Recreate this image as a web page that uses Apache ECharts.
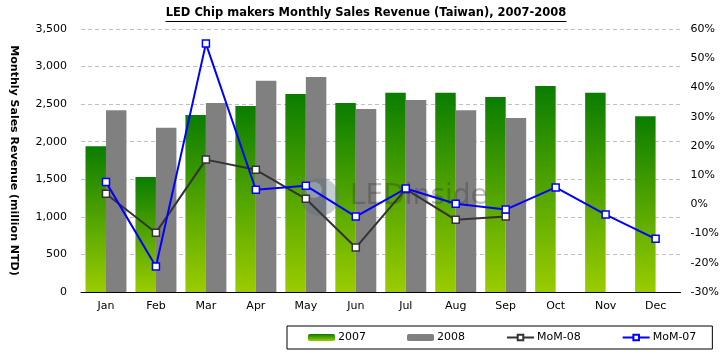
<!DOCTYPE html>
<html><head><meta charset="utf-8">
<script src="https://cdn.jsdelivr.net/npm/echarts@6/dist/echarts.min.js"></script>
<style>html,body{margin:0;padding:0;background:#fff}#c{width:722px;height:357px}</style>
</head><body><div id="c"></div>
<script>
const months = ['Jan','Feb','Mar','Apr','May','Jun','Jul','Aug','Sep','Oct','Nov','Dec'];
const sales2007 = [1940,1530,2355,2475,2635,2515,2650,2650,2595,2740,2650,2340];
const sales2008 = [2420,2185,2515,2810,2860,2435,2555,2420,2315];
const mom08 = [3.6,-9.7,15.3,11.8,1.9,-14.8,5.2,-5.3,-4.2];
const mom07 = [7.6,-21.3,55.0,5.0,6.4,-4.2,5.4,0.2,-1.8,5.8,-3.5,-11.8];
const titleText = 'LED Chip makers Monthly Sales Revenue (Taiwan), 2007-2008';
const yName = 'Monthly Sales Revenue (million NTD)';

const FONT = 'DejaVu Sans';
const TITLE_SIZE = 11.5;
const cv = document.createElement('canvas').getContext('2d');
cv.font = 'bold ' + TITLE_SIZE + 'px "DejaVu Sans"';
const titleW = Math.round(cv.measureText(titleText).width);
const titleCX = 366;

const chart = echarts.init(document.getElementById('c'), null, {renderer:'canvas'});
const green = new echarts.graphic.LinearGradient(0,0,0,1,[{offset:0,color:'#0a7d00'},{offset:1,color:'#9acc00'}]);
const lineSeries = (name, data, color) => ({
  name, type:'line', yAxisIndex:1, data, symbol:'rect', symbolSize:7,
  itemStyle:{color:'#fff', borderColor:color, borderWidth:1.5},
  lineStyle:{color:color, width:2}, z:5
});
chart.setOption({
  animation:false,
  textStyle:{fontFamily:FONT, color:'#000'},
  grid:{left:78, right:40, top:29, bottom:65},
  graphic:[
    {type:'text', x:titleCX, y:7, style:{text:titleText, fontSize:TITLE_SIZE, fontWeight:'bold', fontFamily:FONT, fill:'#000', textAlign:'center'}},
    {type:'rect', x:titleCX - titleW/2, y:21, shape:{width:titleW, height:1}, style:{fill:'#000'}},
    {type:'circle', z:3, shape:{cx:320, cy:197, r:19}, style:{fill:'rgba(90,110,130,0.35)'}},
    {type:'circle', z:3, shape:{cx:314, cy:190, r:8}, style:{fill:'rgba(200,230,230,0.35)'}},
    {type:'text', z:3, x:350, y:183, style:{text:'LEDinside', fontSize:28, fontFamily:FONT, fill:'rgba(50,50,50,0.32)'}}
  ],
  legend:{
    left:287, top:326, padding:[6,16,6,21], borderColor:'#000', borderWidth:1,
    itemWidth:27, itemHeight:7, itemGap:41,
    textStyle:{fontFamily:FONT, fontSize:11, color:'#000', padding:[0,0,0,-2]},
    data:['2007','2008','MoM-08','MoM-07']
  },
  xAxis:{
    type:'category', data:months,
    axisLine:{lineStyle:{color:'#000', width:1}},
    axisTick:{inside:true, length:3, lineStyle:{color:'#000'}},
    axisLabel:{fontFamily:FONT, fontSize:11, color:'#000', margin:9}
  },
  yAxis:[
    {type:'value', min:0, max:3500, interval:500,
     name:yName, nameLocation:'middle', nameRotate:-90, nameGap:62,
     nameTextStyle:{fontFamily:FONT, fontSize:11, fontWeight:'bold', color:'#000'},
     axisLine:{show:false}, axisTick:{show:false},
     axisLabel:{fontFamily:FONT, fontSize:11, color:'#000', margin:14,
       formatter:v=>v.toLocaleString('en-US')},
     splitLine:{lineStyle:{color:'#c0c0c0', type:[4,3]}}},
    {type:'value', min:-30, max:60, interval:10, position:'right',
     axisLine:{show:false}, axisTick:{show:false}, splitLine:{show:false},
     axisLabel:{fontFamily:FONT, fontSize:11, color:'#000', margin:10, formatter:'{value}%'}}
  ],
  series:[
    {name:'2007', type:'bar', data:sales2007, barGap:'0%', barCategoryGap:'18%', itemStyle:{color:green}},
    {name:'2008', type:'bar', data:sales2008, itemStyle:{color:'#808080'}},
    lineSeries('MoM-08', mom08, '#333333'),
    lineSeries('MoM-07', mom07, '#0000ff')
  ]
});
</script></body></html>
